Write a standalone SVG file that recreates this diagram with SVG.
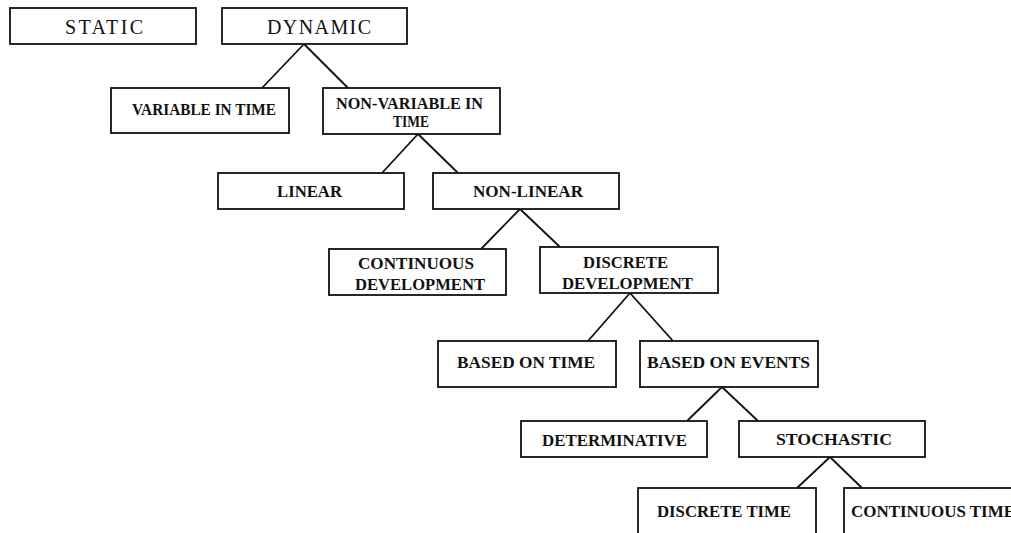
<svg xmlns="http://www.w3.org/2000/svg" width="1011" height="533" viewBox="0 0 1011 533">
<style>
.box{fill:#fff;stroke:#111;stroke-width:1.8}
.lbl{font-family:"Liberation Serif","Times New Roman",serif;font-size:17px;font-weight:bold;fill:#111}
.top{font-family:"Liberation Serif","Times New Roman",serif;font-size:20px;fill:#111}
.con line{stroke:#111;stroke-width:1.8}
</style>
<rect width="1011" height="533" fill="#fff"/>
<g class="con" id="connectors">
<line x1="304" y1="44" x2="262" y2="88"/><line x1="304" y1="44" x2="348" y2="88"/>
<line x1="418" y1="134" x2="382" y2="173"/><line x1="418" y1="134" x2="458" y2="173"/>
<line x1="520" y1="209" x2="481" y2="249"/><line x1="520" y1="209" x2="560" y2="247"/>
<line x1="630" y1="293" x2="588" y2="341"/><line x1="630" y1="293" x2="673" y2="341"/>
<line x1="722" y1="387" x2="687" y2="421"/><line x1="722" y1="387" x2="758" y2="421"/>
<line x1="830" y1="457" x2="797" y2="488"/><line x1="830" y1="457" x2="862" y2="488"/>
</g>
<g id="static"><rect class="box" x="10" y="8" width="186" height="36"/><text class="top" x="65" y="33.5" textLength="78" lengthAdjust="spacing">STATIC</text></g>
<g id="dynamic"><rect class="box" x="222" y="8" width="185" height="36"/><text class="top" x="267" y="33.5" textLength="104" lengthAdjust="spacing">DYNAMIC</text></g>
<g id="variable"><rect class="box" x="111" y="88" width="178" height="45"/><text class="lbl" x="132" y="115" textLength="144" lengthAdjust="spacingAndGlyphs">VARIABLE IN TIME</text></g>
<g id="nonvariable"><rect class="box" x="323" y="88" width="177" height="46"/><text class="lbl" x="336" y="109" textLength="147" lengthAdjust="spacingAndGlyphs">NON-VARIABLE IN</text><text class="lbl" x="393" y="127" textLength="36" lengthAdjust="spacingAndGlyphs">TIME</text></g>
<g id="linear"><rect class="box" x="218" y="173" width="186" height="36"/><text class="lbl" x="277" y="197" textLength="65" lengthAdjust="spacingAndGlyphs">LINEAR</text></g>
<g id="nonlinear"><rect class="box" x="433" y="173" width="186" height="36"/><text class="lbl" x="473" y="197" textLength="110" lengthAdjust="spacingAndGlyphs">NON-LINEAR</text></g>
<g id="continuousdev"><rect class="box" x="329" y="249" width="177" height="46"/><text class="lbl" x="358" y="269" textLength="116" lengthAdjust="spacingAndGlyphs">CONTINUOUS</text><text class="lbl" x="355" y="290" textLength="130" lengthAdjust="spacingAndGlyphs">DEVELOPMENT</text></g>
<g id="discretedev"><rect class="box" x="540" y="247" width="178" height="46"/><text class="lbl" x="583" y="268" textLength="85" lengthAdjust="spacingAndGlyphs">DISCRETE</text><text class="lbl" x="562" y="289" textLength="131" lengthAdjust="spacingAndGlyphs">DEVELOPMENT</text></g>
<g id="basedtime"><rect class="box" x="438" y="341" width="178" height="46"/><text class="lbl" x="457" y="368" textLength="138" lengthAdjust="spacingAndGlyphs">BASED ON TIME</text></g>
<g id="basedevents"><rect class="box" x="640" y="341" width="178" height="46"/><text class="lbl" x="647" y="368" textLength="163" lengthAdjust="spacingAndGlyphs">BASED ON EVENTS</text></g>
<g id="determinative"><rect class="box" x="521" y="421" width="186" height="36"/><text class="lbl" x="542" y="446" textLength="145" lengthAdjust="spacingAndGlyphs">DETERMINATIVE</text></g>
<g id="stochastic"><rect class="box" x="739" y="421" width="186" height="36"/><text class="lbl" x="776" y="445" textLength="116" lengthAdjust="spacingAndGlyphs">STOCHASTIC</text></g>
<g id="discretetime"><rect class="box" x="638" y="488" width="178" height="60"/><text class="lbl" x="657" y="517" textLength="134" lengthAdjust="spacingAndGlyphs">DISCRETE TIME</text></g>
<g id="continuoustime"><rect class="box" x="844" y="488" width="190" height="60"/><text class="lbl" x="851" y="517" textLength="164" lengthAdjust="spacingAndGlyphs">CONTINUOUS TIME</text></g>
</svg>
